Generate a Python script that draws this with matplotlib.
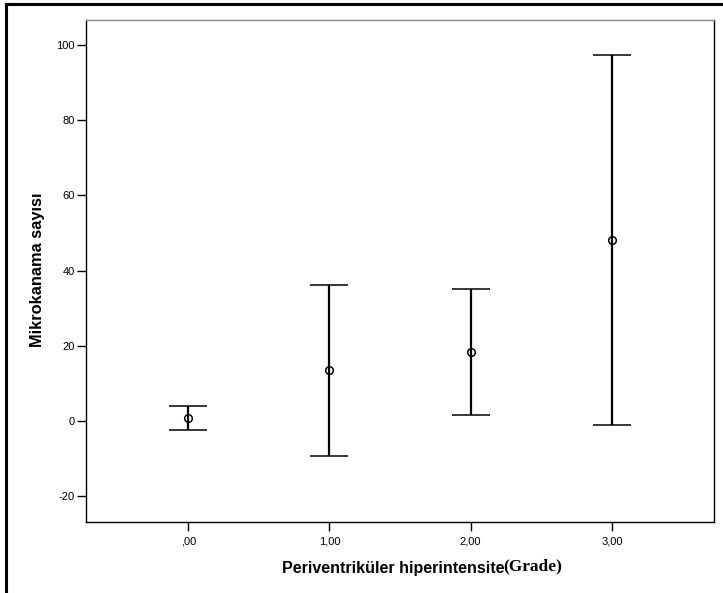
import numpy as np
import matplotlib.pyplot as plt
from matplotlib.lines import Line2D

plt.rcParams['axes.unicode_minus'] = False

# grupos (Periventriküler hiperintensite grade)
grade = [0, 1, 2, 3]
grade_labels = [',00', '1,00', '2,00', '3,00']
mean = [0.8, 13.6, 18.4, 48.1]
upper = [4.0, 36.2, 35.1, 97.3]
lower = [-2.4, -9.3, 1.6, -1.1]

W, H = 723, 593
fig = plt.figure(figsize=(W / 100, H / 100), dpi=100)
ax = fig.add_axes([86 / W, 1 - 522 / H, (714 - 86) / W, (522 - 20) / H])

m = np.array(mean)
err = np.array([m - np.array(lower), np.array(upper) - m])
ax.errorbar(grade, mean, yerr=err, fmt='o', color='black', mfc='none',
            mec='black', ms=5.5, mew=1.1, elinewidth=1.6, capsize=13.5,
            capthick=2.0, zorder=3)

ax.set_xlim(-0.724, 3.723)
ax.set_ylim(-26.9, 106.65)
ax.set_xticks(grade)
ax.set_xticklabels(grade_labels)
ax.set_yticks([-20, 0, 20, 40, 60, 80, 100])
ax.tick_params(direction='out', length=6.5, width=1, labelsize=8, pad=1.5)
ax.tick_params(axis='x', pad=4)
for t in ax.get_xticklabels() + ax.get_yticklabels():
    t.set_family(['Liberation Sans', 'DejaVu Sans'])
for s in ax.spines.values():
    s.set_linewidth(1.0)
ax.spines['top'].set_color('#888888')

fig.text(38 / W, 1 - 270 / H, 'Mikrokanama sayısı', rotation=90, ha='center',
         va='center', fontsize=11.8, fontweight='bold', family='Liberation Sans')
fig.text(505 / W, 1 - 568 / H, 'Periventriküler hiperintensite', ha='right',
         va='center', fontsize=11.5, fontweight='bold', family='Liberation Sans')
fig.text(503 / W, 1 - 566 / H, '(Grade)', ha='left', va='center',
         fontsize=12.5, fontweight='bold', family='Liberation Serif')

# cerceve exterior
fig.add_artist(Line2D([6 / W, 1], [1 - 4 / H, 1 - 4 / H], color='black', lw=2.2))
fig.add_artist(Line2D([6 / W, 6 / W], [0, 1 - 4 / H], color='black', lw=2.2))

fig.savefig('out.png', dpi=100)
